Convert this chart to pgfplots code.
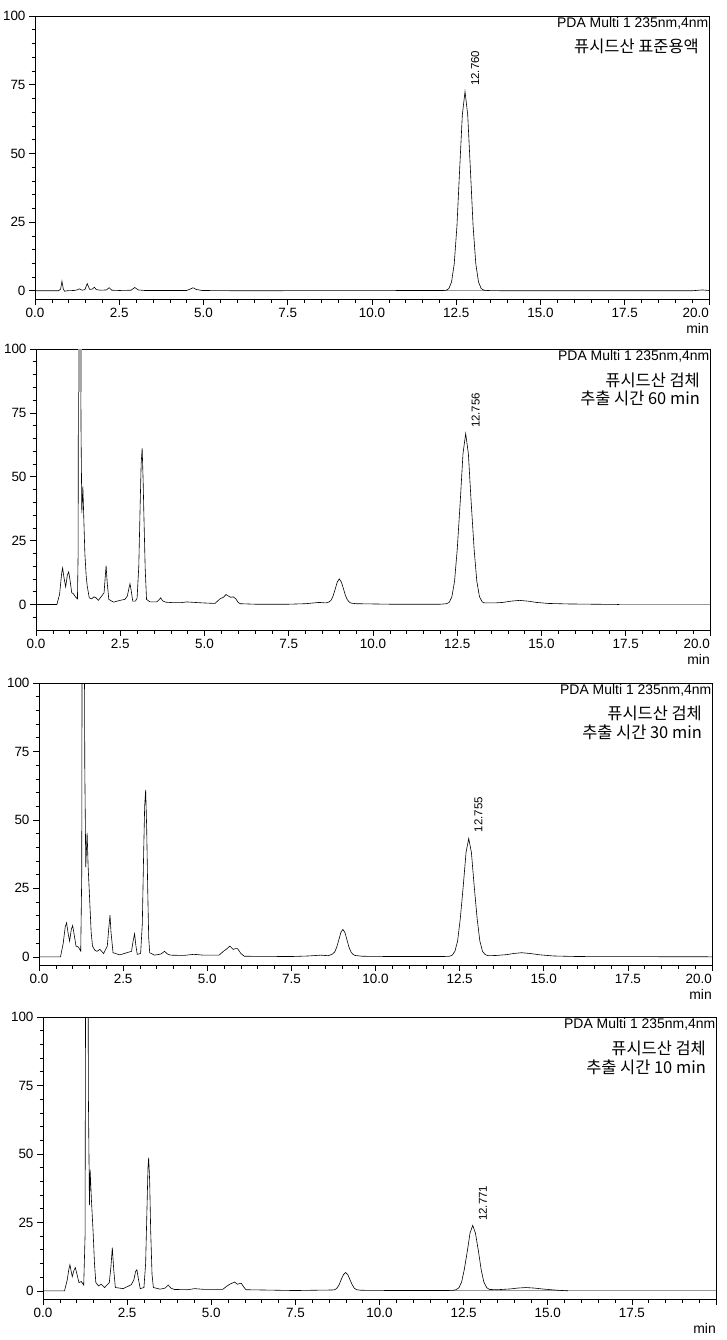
\documentclass[border=0pt]{standalone}
\usepackage{fontspec}
\setmainfont{Liberation Sans}
\newfontfamily\kr{Noto Sans CJK KR}
\usepackage{pgfplots}
\pgfplotsset{compat=1.18}
\pgfplotsset{chrom/.style={
  scale only axis, xmin=0, xmax=20, ymax=100,
  clip mode=individual,
  xtick={0,2.5,5,7.5,10,12.5,15,17.5,20},
  xticklabels={0.0,2.5,5.0,7.5,10.0,12.5,15.0,17.5,{}},
  minor xtick={0,0.5,...,20},
  ytick={0,25,50,75,100},
  minor ytick={-5,0,...,100},
  tick align=outside, xtick pos=bottom, ytick pos=left,
  major tick length=6bp, minor tick length=3.5bp,
  axis line style={line width=0.8bp},
  every tick/.style={black, line width=0.6bp},
  tick label style={font=\fontsize{13.5}{13.5}\selectfont},
  /pgf/number format/assume math mode=true,
  trace/.style={black, line width=0.6bp},
  base/.style={black!40, line width=1bp},
}}
\newcommand{\pda}{\node[anchor=east, inner sep=0, font=\fontsize{14}{14}\selectfont] at (rel axis cs:1,1) [xshift=-0.5bp, yshift=-7bp] {PDA Multi 1 235nm,4nm};}
\newcommand{\minlab}{\node[anchor=east, inner sep=0, font=\fontsize{14}{14}\selectfont] at (rel axis cs:1,0) [yshift=-29bp] {min};}
\newcommand{\lasttick}{\node[anchor=east, inner sep=0, font=\fontsize{13.5}{13.5}\selectfont] at (rel axis cs:1,0) [yshift=-14bp] {20.0};}
\newcommand{\rt}[3]{\node[rotate=90, anchor=west, inner sep=0, font=\fontsize{11.5}{11.5}\selectfont] at (axis cs:#1,#2) {#3};}
\newcommand{\kl}[2]{\node[anchor=east, inner sep=0, font=\kr\fontsize{16.5}{16.5}\selectfont] at (rel axis cs:1,1) [xshift=-10bp, yshift=#1] {#2};}
\begin{document}
\begin{tikzpicture}[x=1bp,y=1bp]
\path (0,0) rectangle (726,-1340);

% ---------- Panel 1 ----------
\begin{axis}[chrom, at={(35bp,-299bp)}, anchor=south west, width=674bp, height=283bp, ymin=-3]
\addplot[base] coordinates {(12.1,0) (13.5,0)};
\addplot[trace] coordinates {
(0,0) (0.70,0) (0.76,0.6) (0.80,3.5) (0.84,0.6) (0.88,-0.2) (0.95,0) (1.15,0.1) (1.25,0.3) (1.32,0.7) (1.40,0.2) (1.48,0.4) (1.55,2.6) (1.62,0.5) (1.70,0.6) (1.76,1.3) (1.82,0.4) (1.95,0.2) (2.12,0.3) (2.20,1.1) (2.28,0.2) (2.50,0.1) (2.85,0.2) (2.96,1.2) (3.06,0.3) (3.25,0.1) (4.50,0.1) (4.60,0.6) (4.69,1.1) (4.78,0.5) (4.95,0.1) (6.0,0) (12.12,0.1) (12.20,0.16) (12.28,0.8) (12.36,3.2) (12.44,9.8) (12.52,23.5) (12.60,44.0) (12.68,64.0) (12.76,72.5) (12.84,64.0) (12.92,44.0) (13.00,23.5) (13.08,9.8) (13.16,3.2) (13.24,0.8) (13.32,0.2) (13.5,0.05) (14,0) (19.5,0) (19.8,0.3) (20,0.1)};
\pda
\kl{-30bp}{퓨시드산 표준용액}
\rt{13.06}{74.5}{12.760}
\minlab \lasttick
\end{axis}

% ---------- Panel 2 ----------
\begin{axis}[chrom, at={(36bp,-630bp)}, anchor=south west, width=674bp, height=281bp, ymin=-10]
\addplot[base] coordinates {(17.3,0) (20,0)};
\addplot[trace] coordinates {
(0,0) (0.62,0) (0.70,4) (0.76,12) (0.79,14.3) (0.83,10.5) (0.88,6.9) (0.93,11.5) (0.97,12.8) (1.01,9.5) (1.06,4.6) (1.11,4.2) (1.17,3.0) (1.23,2.2) (1.25,20) (1.27,200) (1.31,200) (1.335,70) (1.36,35.8) (1.39,46.2) (1.42,33) (1.45,20) (1.49,11) (1.52,7.2) (1.58,2.6) (1.65,2.2) (1.72,3.0) (1.78,2.6) (1.85,1.6) (1.95,3.3) (2.02,4.6) (2.05,10) (2.08,15.2) (2.11,9) (2.16,2.0) (2.30,0.9) (2.49,1.6) (2.64,2.0) (2.71,3.3) (2.76,6.5) (2.79,8.1) (2.83,5) (2.87,1.3) (2.95,1.3) (3.00,2.5) (3.05,15) (3.09,38.4) (3.12,55) (3.15,61.2) (3.18,48) (3.20,35.8) (3.24,14) (3.28,2.0) (3.38,1.0) (3.58,1.0) (3.65,1.8) (3.70,2.6) (3.76,1.4) (3.85,0.9) (4.07,0.7) (4.30,0.7) (4.47,1.0) (4.70,0.8) (4.97,0.6) (5.31,0.4) (5.46,2.2) (5.56,2.8) (5.64,3.9) (5.72,3.2) (5.78,2.8) (5.85,3.0) (5.93,2.2) (6.00,0.8) (6.06,0.3) (6.5,0.1) (7.5,0.1) (8.0,0.3) (8.4,0.8) (8.6,0.6) (8.70,1.0) (8.76,1.7) (8.82,3.5) (8.88,6.1) (8.94,8.8) (9.00,10.0) (9.06,8.8) (9.12,6.3) (9.18,3.6) (9.24,1.8) (9.30,0.9) (9.36,0.5) (9.5,0.3) (10.0,0.2) (10.5,0.1) (12.0,0.1) (12.18,0.3) (12.26,0.8) (12.34,3.0) (12.42,9.1) (12.50,21.7) (12.59,40.6) (12.67,59.0) (12.75,66.9) (12.83,59.0) (12.91,40.6) (13.00,21.7) (13.08,9.1) (13.16,3.0) (13.24,1.0) (13.32,0.6) (13.6,0.6) (13.85,0.8) (14.1,1.3) (14.35,1.6) (14.6,1.3) (14.85,0.8) (15.2,0.4) (15.8,0.2) (16.5,0.1) (17.3,0)};
\addplot[black!35, line width=4bp] coordinates {(1.31,83) (1.31,102)};
\pda
\kl{-31bp}{퓨시드산 검체}
\kl{-49bp}{추출 시간 60 min}
\rt{13.05}{69}{12.756}
\minlab \lasttick
\end{axis}

% ---------- Panel 3 ----------
\begin{axis}[chrom, at={(39bp,-965bp)}, anchor=south west, width=673bp, height=282bp, ymin=-3]
\addplot[trace] coordinates {
(0,0) (0.64,0) (0.72,5) (0.78,11) (0.82,12.4) (0.86,9) (0.91,5.7) (0.96,10) (1.00,11.4) (1.04,8.5) (1.10,3.9) (1.17,3.6) (1.24,2.1) (1.27,30) (1.29,200) (1.33,200) (1.36,70) (1.39,32.8) (1.43,45.3) (1.46,33) (1.51,19.7) (1.55,9) (1.59,3.9) (1.66,2.4) (1.72,2.0) (1.81,2.7) (1.92,1.2) (2.03,3.9) (2.07,10) (2.11,15.2) (2.14,9) (2.20,1.5) (2.40,0.7) (2.61,1.5) (2.75,2.0) (2.80,6) (2.84,8.4) (2.88,4) (2.92,0.9) (3.02,1.2) (3.07,12) (3.11,38) (3.14,55) (3.17,61) (3.20,47) (3.23,25) (3.26,7) (3.29,1.5) (3.43,0.6) (3.62,1.0) (3.73,2.0) (3.82,1.0) (3.91,0.6) (4.3,0.5) (4.6,0.9) (4.9,0.6) (5.35,0.6) (5.49,2.1) (5.58,2.9) (5.67,3.9) (5.77,2.7) (5.84,3.0) (5.90,3.0) (6.00,1.2) (6.10,0.2) (7.5,0.1) (8.0,0.3) (8.37,0.6) (8.6,0.4) (8.72,1.0) (8.79,1.8) (8.85,3.6) (8.91,6.2) (8.97,8.9) (9.03,10.0) (9.09,8.9) (9.15,6.3) (9.21,3.6) (9.27,1.8) (9.33,0.9) (9.39,0.5) (9.6,0.2) (10.5,0.1) (12.0,0.1) (12.2,0.2) (12.28,0.6) (12.36,2.0) (12.44,5.8) (12.52,14.0) (12.61,26.2) (12.69,38.1) (12.77,43.2) (12.85,38.1) (12.93,26.2) (13.02,14.0) (13.10,5.8) (13.18,2.0) (13.26,0.8) (13.35,0.4) (13.6,0.5) (13.9,0.8) (14.1,1.2) (14.34,1.5) (14.6,1.2) (14.9,0.7) (15.3,0.3) (16,0.1) (20,0)};
\pda
\kl{-30bp}{퓨시드산 검체}
\kl{-49bp}{추출 시간 30 min}
\rt{13.06}{45.5}{12.755}
\minlab \lasttick
\end{axis}

% ---------- Panel 4 ----------
\begin{axis}[chrom, at={(43bp,-1299bp)}, anchor=south west, width=673bp, height=282bp, ymin=-3]
\addplot[base] coordinates {(11.95,0) (20,0)};
\addplot[trace] coordinates {
(0,0) (0.64,0) (0.72,4) (0.77,8) (0.80,9.5) (0.84,7) (0.87,5.2) (0.92,7.5) (0.96,8.5) (1.01,6) (1.07,3.0) (1.14,3.4) (1.21,2.1) (1.25,20) (1.28,200) (1.32,200) (1.35,70) (1.38,31.3) (1.40,44.3) (1.44,33) (1.49,21.3) (1.53,10) (1.57,3) (1.65,1.8) (1.73,2.4) (1.83,1.2) (1.97,3) (2.02,9) (2.06,15.8) (2.10,8) (2.15,1.2) (2.38,0.8) (2.62,2.2) (2.70,4) (2.75,7) (2.79,7.7) (2.84,4) (2.89,0.8) (3.00,1.2) (3.05,10) (3.09,30) (3.12,45) (3.14,48.6) (3.17,40) (3.20,22) (3.24,6) (3.28,1.2) (3.48,0.6) (3.63,1.0) (3.72,2.1) (3.80,1.0) (3.90,0.5) (4.3,0.4) (4.51,0.8) (4.8,0.5) (5.34,0.5) (5.45,1.6) (5.55,2.4) (5.69,3.2) (5.78,2.4) (5.89,2.8) (5.96,1.5) (6.03,0.4) (7.5,0.1) (8.0,0.2) (8.60,0.3) (8.67,0.4) (8.73,0.9) (8.80,2.2) (8.86,4.1) (8.93,5.9) (8.99,6.7) (9.06,5.9) (9.12,4.1) (9.19,2.2) (9.25,0.95) (9.32,0.4) (9.45,0.2) (10.5,0.1) (12.0,0.1) (12.20,0.2) (12.27,0.4) (12.36,1.1) (12.44,3.2) (12.52,7.8) (12.61,14.5) (12.69,21.1) (12.77,23.9) (12.85,21.1) (12.94,14.5) (13.02,7.8) (13.10,3.2) (13.19,1.1) (13.27,0.5) (13.5,0.4) (13.9,0.7) (14.1,1.0) (14.35,1.2) (14.6,1.0) (14.9,0.6) (15.3,0.2) (15.6,0)};
\pda
\kl{-31bp}{퓨시드산 검체}
\kl{-50bp}{추출 시간 10 min}
\rt{13.07}{25.5}{12.771}
\minlab
\end{axis}

\pgfresetboundingbox
\path[use as bounding box] (0,0) rectangle (726,-1340);
\end{tikzpicture}
\end{document}
